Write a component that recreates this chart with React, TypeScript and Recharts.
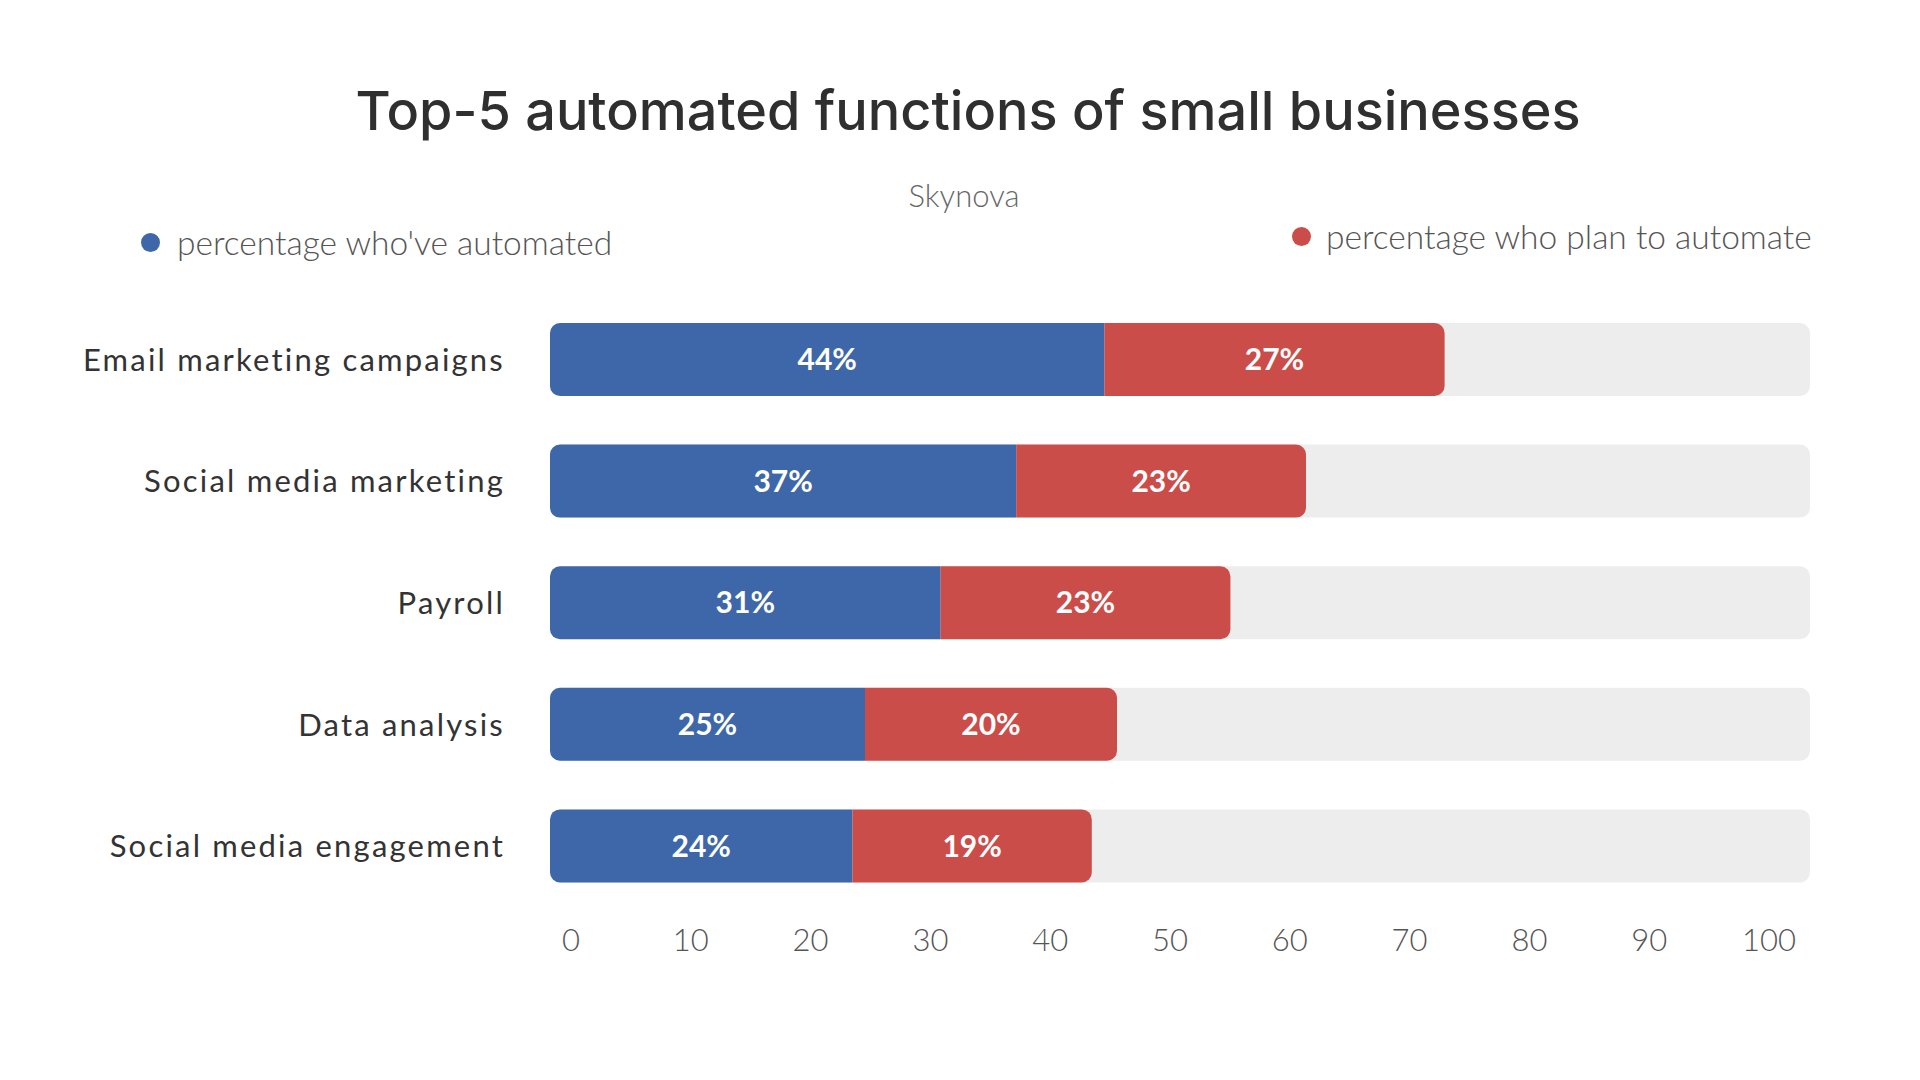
import React from 'react';
import { BarChart, Bar, XAxis, YAxis, LabelList } from 'recharts';

const categories = [
  'Email marketing campaigns',
  'Social media marketing',
  'Payroll',
  'Data analysis',
  'Social media engagement',
];
const automated = [44, 37, 31, 25, 24];
const planned = [27, 23, 23, 20, 19];
const xTicks = [0, 10, 20, 30, 40, 50, 60, 70, 80, 90, 100];

const BLUE = '#3D67A8';
const RED = '#CB4D49';
const BG = '#EEEDED';

const data = categories.map((name, i) => ({
  name,
  automated: automated[i],
  planned: planned[i],
}));

const pct = (v: any) => `${v}%`;

export default function App() {
  return (
    <div
      style={{
        position: 'absolute',
        left: 0,
        top: 0,
        width: 1920,
        height: 1080,
        background: '#fff',
        overflow: 'hidden',
        fontFamily: 'Lato, sans-serif',
      }}
    >
      <div
        style={{
          position: 'absolute',
          left: 0,
          width: 1920,
          top: 76,
          textAlign: 'center',
          fontFamily: 'Inter, sans-serif',
          fontWeight: 500,
          fontSize: 54,
          color: '#2f2f2f',
          lineHeight: '70px',
          paddingLeft: 16,
          boxSizing: 'border-box',
        }}
      >
        Top-5 automated functions of small businesses
      </div>
      <div
        style={{
          position: 'absolute',
          left: 0,
          width: 1920,
          top: 175,
          textAlign: 'center',
          fontWeight: 300,
          fontSize: 31,
          color: '#666',
          lineHeight: '40px',
          paddingLeft: 8,
          boxSizing: 'border-box',
        }}
      >
        Skynova
      </div>
      <div
        style={{
          position: 'absolute',
          left: 141,
          top: 222,
          display: 'flex',
          alignItems: 'center',
          fontWeight: 300,
          fontSize: 33.5,
          color: '#555',
          lineHeight: '40px',
        }}
      >
        <span
          style={{
            width: 19,
            height: 19,
            borderRadius: '50%',
            background: BLUE,
            display: 'inline-block',
            marginRight: 17,
          }}
        />
        percentage who've automated
      </div>
      <div
        style={{
          position: 'absolute',
          left: 1292,
          top: 216,
          display: 'flex',
          alignItems: 'center',
          fontWeight: 300,
          fontSize: 33.5,
          color: '#555',
          lineHeight: '40px',
        }}
      >
        <span
          style={{
            width: 19,
            height: 19,
            borderRadius: '50%',
            background: RED,
            display: 'inline-block',
            marginRight: 15,
          }}
        />
        percentage who plan to automate
      </div>
      <div style={{ position: 'absolute', left: 0, top: 0 }}>
        <BarChart
          width={1920}
          height={1080}
          data={data}
          layout="vertical"
          margin={{ top: 299, right: 110, bottom: 0, left: 0 }}
          barSize={73}
        >
          <XAxis xAxisId="bars" type="number" domain={[0, 100]} hide />
          <XAxis
            xAxisId="ticks"
            type="number"
            domain={[0, 100]}
            allowDataOverflow
            ticks={xTicks}
            interval={0}
            padding={{ left: 21, right: 41 }}
            axisLine={false}
            tickLine={false}
            tickSize={0}
            tickMargin={-8}
            height={173}
            tick={{ fill: '#555', fontSize: 31, fontWeight: 300, fontFamily: 'Lato' }}
          />
          <YAxis
            type="category"
            dataKey="name"
            width={550}
            axisLine={false}
            tickLine={false}
            tickSize={0}
            tickMargin={45}
            tick={{ fill: '#333', fontSize: 31, fontFamily: 'Lato', letterSpacing: 2.2 }}
          />
          <Bar
            xAxisId="bars"
            dataKey="automated"
            stackId="a"
            fill={BLUE}
            radius={[10, 0, 0, 10]}
            background={{ fill: BG, radius: 10 } as any}
            isAnimationActive={false}
          >
            <LabelList
              dataKey="automated"
              position="center"
              formatter={pct}
              fill="#fff"
              style={{ fontSize: 30, fontWeight: 700, fontFamily: 'Lato' }}
            />
          </Bar>
          <Bar
            xAxisId="bars"
            dataKey="planned"
            stackId="a"
            fill={RED}
            radius={[0, 10, 10, 0]}
            isAnimationActive={false}
          >
            <LabelList
              dataKey="planned"
              position="center"
              formatter={pct}
              fill="#fff"
              style={{ fontSize: 30, fontWeight: 700, fontFamily: 'Lato' }}
            />
          </Bar>
        </BarChart>
      </div>
    </div>
  );
}
